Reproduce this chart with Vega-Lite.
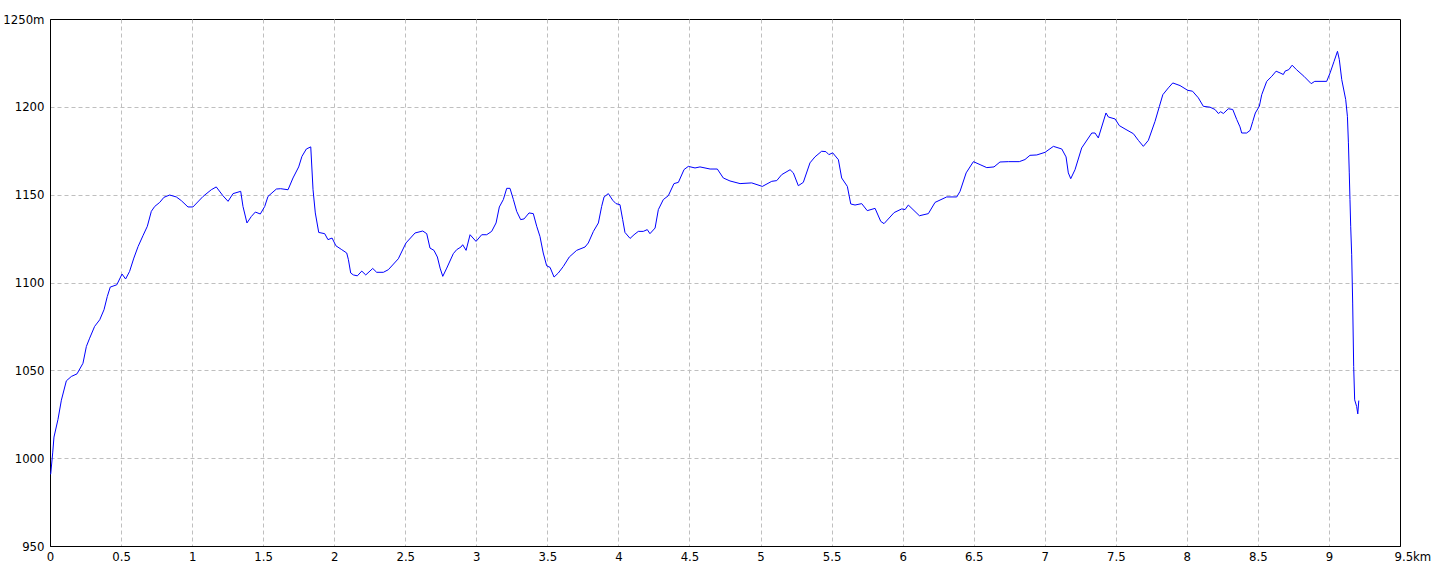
{
  "$schema": "https://vega.github.io/schema/vega-lite/v6.json",
  "width": 1350,
  "height": 527,
  "autosize": {"type": "none"},
  "padding": {"left": 50, "top": 19, "right": 40, "bottom": 30},
  "background": "white",
  "config": {
    "view": {"stroke": "black", "strokeWidth": 1},
    "font": "Liberation Sans Narrow, DejaVu Sans Condensed, Liberation Sans",
    "axis": {
      "domainColor": "black",
      "domainWidth": 1,
      "ticks": false,
      "grid": true,
      "gridColor": "#bfbfbf",
      "gridDash": [4, 3],
      "gridWidth": 1,
      "labelColor": "black",
      "labelFontSize": 13,
      "labelFont": "Liberation Sans Narrow, DejaVu Sans Condensed, Liberation Sans",
      "labelOverlap": false,
      "labelFlush": false,
      "labelBound": false,
      "title": null
    }
  },
  "data": {
    "values": [
      {"km": 0, "elev": 991}, {"km": 0.005, "elev": 991}, {"km": 0.019, "elev": 1003}, {"km": 0.028, "elev": 1012},
      {"km": 0.056, "elev": 1022}, {"km": 0.08, "elev": 1033}, {"km": 0.115, "elev": 1044}, {"km": 0.15, "elev": 1046.5},
      {"km": 0.19, "elev": 1048}, {"km": 0.232, "elev": 1054}, {"km": 0.256, "elev": 1063.6}, {"km": 0.279, "elev": 1068.3},
      {"km": 0.314, "elev": 1075}, {"km": 0.35, "elev": 1078.8}, {"km": 0.38, "elev": 1084.5}, {"km": 0.403, "elev": 1092},
      {"km": 0.424, "elev": 1097.4}, {"km": 0.47, "elev": 1098.7}, {"km": 0.507, "elev": 1104.8}, {"km": 0.532, "elev": 1102},
      {"km": 0.56, "elev": 1106.3}, {"km": 0.59, "elev": 1113.9}, {"km": 0.62, "elev": 1120.5}, {"km": 0.654, "elev": 1126.6},
      {"km": 0.685, "elev": 1132}, {"km": 0.713, "elev": 1140.5}, {"km": 0.737, "elev": 1143.3}, {"km": 0.772, "elev": 1145.6},
      {"km": 0.802, "elev": 1148.5}, {"km": 0.842, "elev": 1149.8}, {"km": 0.889, "elev": 1148.7}, {"km": 0.924, "elev": 1146.6},
      {"km": 0.971, "elev": 1143}, {"km": 1.006, "elev": 1143}, {"km": 1.077, "elev": 1149}, {"km": 1.135, "elev": 1152.8},
      {"km": 1.17, "elev": 1154.4}, {"km": 1.217, "elev": 1149.4}, {"km": 1.253, "elev": 1146.2}, {"km": 1.288, "elev": 1150.6},
      {"km": 1.342, "elev": 1151.9}, {"km": 1.358, "elev": 1143.3}, {"km": 1.386, "elev": 1133.9}, {"km": 1.417, "elev": 1137.6},
      {"km": 1.445, "elev": 1140.1}, {"km": 1.48, "elev": 1139}, {"km": 1.511, "elev": 1143.3}, {"km": 1.534, "elev": 1149},
      {"km": 1.562, "elev": 1151}, {"km": 1.593, "elev": 1153.2}, {"km": 1.623, "elev": 1153.4}, {"km": 1.675, "elev": 1152.8},
      {"km": 1.71, "elev": 1159.5}, {"km": 1.75, "elev": 1165.8}, {"km": 1.773, "elev": 1171.8}, {"km": 1.804, "elev": 1176},
      {"km": 1.835, "elev": 1177.2}, {"km": 1.851, "elev": 1152.8}, {"km": 1.867, "elev": 1139.6}, {"km": 1.891, "elev": 1128.5},
      {"km": 1.933, "elev": 1127.8}, {"km": 1.956, "elev": 1124.4}, {"km": 1.985, "elev": 1125.3}, {"km": 2.012, "elev": 1120.9},
      {"km": 2.053, "elev": 1118.7}, {"km": 2.088, "elev": 1116.8}, {"km": 2.1, "elev": 1113}, {"km": 2.116, "elev": 1105.4},
      {"km": 2.135, "elev": 1104.3}, {"km": 2.163, "elev": 1103.8}, {"km": 2.194, "elev": 1106.5}, {"km": 2.222, "elev": 1104.3},
      {"km": 2.271, "elev": 1108}, {"km": 2.299, "elev": 1105.8}, {"km": 2.346, "elev": 1105.8}, {"km": 2.381, "elev": 1107.3},
      {"km": 2.451, "elev": 1113.5}, {"km": 2.505, "elev": 1122.5}, {"km": 2.569, "elev": 1128.2}, {"km": 2.623, "elev": 1129.3},
      {"km": 2.651, "elev": 1127.8}, {"km": 2.674, "elev": 1119.6}, {"km": 2.702, "elev": 1118.3}, {"km": 2.726, "elev": 1114.5},
      {"km": 2.745, "elev": 1108.2}, {"km": 2.764, "elev": 1103.5}, {"km": 2.792, "elev": 1108.2}, {"km": 2.838, "elev": 1116.4},
      {"km": 2.862, "elev": 1118.7}, {"km": 2.892, "elev": 1120.2}, {"km": 2.904, "elev": 1121.5}, {"km": 2.928, "elev": 1118.3},
      {"km": 2.956, "elev": 1127.2}, {"km": 2.998, "elev": 1123.4}, {"km": 3.038, "elev": 1127.2}, {"km": 3.073, "elev": 1127.2},
      {"km": 3.108, "elev": 1129.1}, {"km": 3.139, "elev": 1133.9}, {"km": 3.162, "elev": 1143}, {"km": 3.19, "elev": 1147.2},
      {"km": 3.214, "elev": 1153.6}, {"km": 3.237, "elev": 1153.6}, {"km": 3.261, "elev": 1147.2}, {"km": 3.284, "elev": 1140.5},
      {"km": 3.312, "elev": 1135.8}, {"km": 3.336, "elev": 1136.2}, {"km": 3.371, "elev": 1139.6}, {"km": 3.401, "elev": 1139.2},
      {"km": 3.425, "elev": 1132}, {"km": 3.448, "elev": 1126.2}, {"km": 3.471, "elev": 1116.8}, {"km": 3.495, "elev": 1109.5},
      {"km": 3.519, "elev": 1108.6}, {"km": 3.547, "elev": 1103.1}, {"km": 3.577, "elev": 1105.4}, {"km": 3.612, "elev": 1109.1},
      {"km": 3.654, "elev": 1114.5}, {"km": 3.706, "elev": 1118.3}, {"km": 3.765, "elev": 1120.2}, {"km": 3.788, "elev": 1122.5},
      {"km": 3.824, "elev": 1129.1}, {"km": 3.859, "elev": 1133.9}, {"km": 3.882, "elev": 1143.3}, {"km": 3.899, "elev": 1148.7},
      {"km": 3.929, "elev": 1150.6}, {"km": 3.96, "elev": 1146.8}, {"km": 3.983, "elev": 1144.9}, {"km": 4.011, "elev": 1144.3},
      {"km": 4.03, "elev": 1135.8}, {"km": 4.046, "elev": 1128.5}, {"km": 4.082, "elev": 1125.1}, {"km": 4.11, "elev": 1127.2},
      {"km": 4.14, "elev": 1129.1}, {"km": 4.175, "elev": 1129.1}, {"km": 4.203, "elev": 1130.1}, {"km": 4.222, "elev": 1127.8},
      {"km": 4.258, "elev": 1131}, {"km": 4.281, "elev": 1141.5}, {"km": 4.316, "elev": 1147.2}, {"km": 4.351, "elev": 1149.4},
      {"km": 4.391, "elev": 1156.3}, {"km": 4.422, "elev": 1157}, {"km": 4.462, "elev": 1164.3}, {"km": 4.492, "elev": 1166.1},
      {"km": 4.539, "elev": 1165.2}, {"km": 4.574, "elev": 1165.8}, {"km": 4.645, "elev": 1164.6}, {"km": 4.696, "elev": 1164.6},
      {"km": 4.738, "elev": 1159.5}, {"km": 4.785, "elev": 1157.8}, {"km": 4.856, "elev": 1156.3}, {"km": 4.938, "elev": 1156.7},
      {"km": 5.013, "elev": 1154.7}, {"km": 5.079, "elev": 1157.6}, {"km": 5.114, "elev": 1158}, {"km": 5.149, "elev": 1161.4},
      {"km": 5.208, "elev": 1164.2}, {"km": 5.231, "elev": 1162.4}, {"km": 5.266, "elev": 1155.1}, {"km": 5.301, "elev": 1157},
      {"km": 5.348, "elev": 1168.1}, {"km": 5.383, "elev": 1171.5}, {"km": 5.43, "elev": 1174.7}, {"km": 5.46, "elev": 1174.5},
      {"km": 5.481, "elev": 1172.8}, {"km": 5.508, "elev": 1173.8}, {"km": 5.548, "elev": 1169.9}, {"km": 5.571, "elev": 1159.5},
      {"km": 5.611, "elev": 1154.7}, {"km": 5.635, "elev": 1144.7}, {"km": 5.665, "elev": 1144.1}, {"km": 5.712, "elev": 1144.9},
      {"km": 5.751, "elev": 1140.9}, {"km": 5.806, "elev": 1142.2}, {"km": 5.846, "elev": 1134.8}, {"km": 5.869, "elev": 1133.5},
      {"km": 5.94, "elev": 1139.8}, {"km": 5.994, "elev": 1141.9}, {"km": 6.017, "elev": 1141.5}, {"km": 6.04, "elev": 1144.1},
      {"km": 6.118, "elev": 1138}, {"km": 6.181, "elev": 1139.2}, {"km": 6.228, "elev": 1145.6}, {"km": 6.31, "elev": 1148.7},
      {"km": 6.381, "elev": 1148.7}, {"km": 6.404, "elev": 1151.9}, {"km": 6.447, "elev": 1162.4}, {"km": 6.498, "elev": 1168.8},
      {"km": 6.545, "elev": 1167.1}, {"km": 6.592, "elev": 1165.4}, {"km": 6.643, "elev": 1165.8}, {"km": 6.685, "elev": 1168.6},
      {"km": 6.744, "elev": 1168.8}, {"km": 6.821, "elev": 1168.8}, {"km": 6.861, "elev": 1170}, {"km": 6.896, "elev": 1172.4},
      {"km": 6.944, "elev": 1172.6}, {"km": 7.002, "elev": 1174.1}, {"km": 7.061, "elev": 1177.5}, {"km": 7.12, "elev": 1176},
      {"km": 7.15, "elev": 1171.5}, {"km": 7.166, "elev": 1162.4}, {"km": 7.183, "elev": 1159.1}, {"km": 7.213, "elev": 1164.2},
      {"km": 7.26, "elev": 1176.6}, {"km": 7.331, "elev": 1185.1}, {"km": 7.354, "elev": 1185.1}, {"km": 7.377, "elev": 1182.3},
      {"km": 7.431, "elev": 1196.5}, {"km": 7.448, "elev": 1194.2}, {"km": 7.495, "elev": 1193.1}, {"km": 7.525, "elev": 1189.3},
      {"km": 7.565, "elev": 1187.4}, {"km": 7.624, "elev": 1184.7}, {"km": 7.659, "elev": 1180.9}, {"km": 7.694, "elev": 1177.5},
      {"km": 7.729, "elev": 1180.9}, {"km": 7.776, "elev": 1191.7}, {"km": 7.807, "elev": 1200.3}, {"km": 7.831, "elev": 1206.9},
      {"km": 7.87, "elev": 1210.8}, {"km": 7.901, "elev": 1213.6}, {"km": 7.952, "elev": 1212.1}, {"km": 8.006, "elev": 1209.4},
      {"km": 8.04, "elev": 1208.9}, {"km": 8.081, "elev": 1205.1}, {"km": 8.116, "elev": 1200.3}, {"km": 8.163, "elev": 1199.8},
      {"km": 8.198, "elev": 1198.5}, {"km": 8.222, "elev": 1196.2}, {"km": 8.238, "elev": 1197.2}, {"km": 8.257, "elev": 1196.2},
      {"km": 8.292, "elev": 1198.9}, {"km": 8.323, "elev": 1198.5}, {"km": 8.351, "elev": 1192.8}, {"km": 8.374, "elev": 1188.6},
      {"km": 8.386, "elev": 1185.1}, {"km": 8.421, "elev": 1185.1}, {"km": 8.445, "elev": 1186.6}, {"km": 8.464, "elev": 1191.7},
      {"km": 8.482, "elev": 1196.5}, {"km": 8.51, "elev": 1200.3}, {"km": 8.527, "elev": 1206.9}, {"km": 8.562, "elev": 1214.5},
      {"km": 8.598, "elev": 1217.4}, {"km": 8.628, "elev": 1220.3}, {"km": 8.656, "elev": 1219.3}, {"km": 8.679, "elev": 1218.4},
      {"km": 8.691, "elev": 1220.3}, {"km": 8.718, "elev": 1221.2}, {"km": 8.741, "elev": 1223.7}, {"km": 8.771, "elev": 1221.2},
      {"km": 8.824, "elev": 1217.4}, {"km": 8.875, "elev": 1213.2}, {"km": 8.9, "elev": 1214.5}, {"km": 8.984, "elev": 1214.5},
      {"km": 9.008, "elev": 1219.3}, {"km": 9.036, "elev": 1225.9}, {"km": 9.06, "elev": 1231.6}, {"km": 9.073, "elev": 1226.9},
      {"km": 9.09, "elev": 1215.5}, {"km": 9.118, "elev": 1204.1}, {"km": 9.13, "elev": 1194.6}, {"km": 9.137, "elev": 1179.5},
      {"km": 9.143, "elev": 1162.4}, {"km": 9.148, "elev": 1147.2}, {"km": 9.153, "elev": 1132}, {"km": 9.16, "elev": 1115.8},
      {"km": 9.167, "elev": 1088.3}, {"km": 9.174, "elev": 1052.2}, {"km": 9.181, "elev": 1033.2}, {"km": 9.195, "elev": 1029.4},
      {"km": 9.203, "elev": 1025.2}, {"km": 9.21, "elev": 1032.8}
    ]
  },
  "mark": {"type": "line", "color": "#0000ff", "strokeWidth": 1, "clip": true},
  "encoding": {
    "x": {
      "field": "km",
      "type": "quantitative",
      "scale": {"domain": [0, 9.5], "nice": false, "zero": false},
      "axis": {
        "values": [0, 0.5, 1, 1.5, 2, 2.5, 3, 3.5, 4, 4.5, 5, 5.5, 6, 6.5, 7, 7.5, 8, 8.5, 9, 9.5],
        "format": ".1~f",
        "labelExpr": "datum.value == 9.5 ? '9.5km' : datum.label",
        "labelAlign": {"condition": {"test": "datum.value == 9.5", "value": "left"}, "value": "center"},
        "labelOffset": {"condition": {"test": "datum.value == 9.5", "value": -6}, "value": 0},
        "gridOpacity": {"condition": {"test": "datum.value == 9.5 || datum.value == 0", "value": 0}, "value": 1},
        "labelBaseline": "top",
        "labelPadding": 4
      }
    },
    "y": {
      "field": "elev",
      "type": "quantitative",
      "scale": {"domain": [950, 1250], "nice": false, "zero": false},
      "axis": {
        "values": [950, 1000, 1050, 1100, 1150, 1200, 1250],
        "format": "d",
        "labelExpr": "datum.value == 1250 ? '1250m' : datum.label",
        "labelAlign": "right",
        "labelBaseline": "middle",
        "labelPadding": 6,
        "gridOpacity": {"condition": {"test": "datum.value == 1250 || datum.value == 950", "value": 0}, "value": 1}
      }
    }
  }
}
